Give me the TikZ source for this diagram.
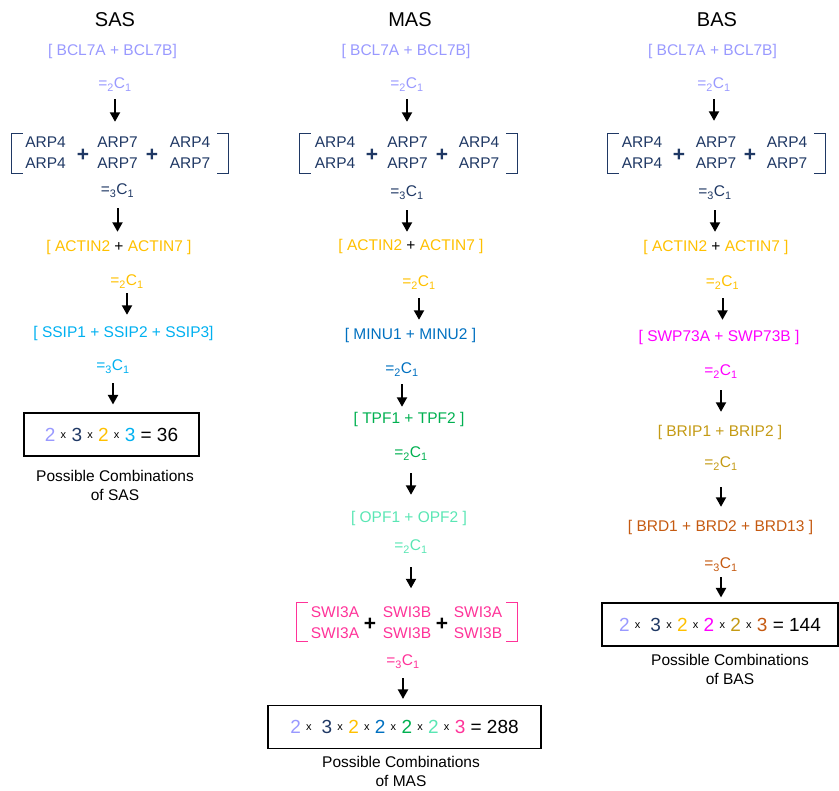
\documentclass[tikz,border=0pt]{standalone}
\usepackage{fontspec}
\setmainfont{Liberation Sans}
\usetikzlibrary{arrows.meta}
\definecolor{bcl}{RGB}{153,153,255}
\definecolor{arp}{RGB}{31,56,100}
\definecolor{actin}{RGB}{255,192,0}
\definecolor{ssip}{RGB}{0,176,240}
\definecolor{minu}{RGB}{0,112,192}
\definecolor{tpf}{RGB}{0,176,80}
\definecolor{opf}{RGB}{90,230,180}
\definecolor{swi}{RGB}{255,51,153}
\definecolor{swp}{RGB}{255,0,255}
\definecolor{brip}{RGB}{196,154,20}
\definecolor{brd}{RGB}{197,90,17}
\newcommand{\cmb}[1]{=\textsubscript{#1}C\textsubscript{1}}
\newcommand{\tx}{{\fontsize{11}{12}\selectfont\raisebox{3pt}{x}}}
\tikzset{
  gene/.style={font=\fontsize{15.5}{18}\selectfont, inner sep=0pt, text height=11pt, text depth=3pt},
  pair/.style={font=\fontsize{15.5}{21.5}\selectfont, inner sep=0pt, align=center},
  plus/.style={font=\fontsize{21}{24}\selectfont\bfseries, inner sep=0pt},
  ttl/.style={font=\fontsize{20}{24}\selectfont},
  blk/.style={inner sep=0pt, minimum width=#1, minimum height=39pt},
  brk/.style={line width=1.3pt},
  arr/.style 2 args={line width=2pt, -{Triangle[width=10pt,length=9.5pt]}, shorten <=#1pt, shorten >=#2pt},
  res/.style={draw, line width=1.1pt, inner sep=0pt, minimum height=43pt, font=\fontsize{19}{22}\selectfont},
  note/.style={font=\fontsize{15.5}{19}\selectfont, align=center, inner sep=0pt}
}
\begin{document}
\begin{tikzpicture}[x=1pt, y=-1pt]
  \useasboundingbox (0,0) rectangle (839,791);
  % SAS
  \draw
    (115,20) node[ttl] (tS){SAS}
    (112.5,52) node[gene,bcl] (bclS){[ BCL7A + BCL7B]}
    (115,85) node[gene,bcl] (cS1){\cmb{2}}
    (120,153.5) node[blk=216pt] (arpS){}
    (45.5,152.5) node[pair,arp] (arpS1){ARP4\\ARP4}
    (117.5,152.5) node[pair,arp] (arpS2){ARP7\\ARP7}
    (190,152.5) node[pair,arp] (arpS3){ARP4\\ARP7}
    (83,155) node[plus,arp] (plS1){+}
    (152,155) node[plus,arp] (plS2){+}
    (117.5,191) node[gene,arp] (cS2){\cmb{3}}
    (119,248) node[gene] (actS){\textcolor{actin}{[ ACTIN2} + \textcolor{actin}{ACTIN7 ]}}
    (127,282) node[gene,actin] (cS3){\cmb{2}}
    (123.5,334) node[gene,ssip] (ssipS){[ SSIP1 + SSIP2 + SSIP3]}
    (113,367) node[gene,ssip] (cS4){\cmb{3}}
    (111.5,434.5) node[res, minimum width=175pt] (resS){\textcolor{bcl}{2} \tx{} \textcolor{arp}{3} \tx{} \textcolor{actin}{2} \tx{} \textcolor{ssip}{3} = 36}
    (115,485) node[note] (noteS){Possible Combinations\\of SAS};
  % MAS
  \draw
    (410,20) node[ttl] (tM){MAS}
    (406,52) node[gene,bcl] (bclM){[ BCL7A + BCL7B]}
    (407,85) node[gene,bcl] (cM1){\cmb{2}}
    (408.5,153.5) node[blk=217pt] (arpM){}
    (335,152.5) node[pair,arp] (arpM1){ARP4\\ARP4}
    (407.5,152.5) node[pair,arp] (arpM2){ARP7\\ARP7}
    (479,152.5) node[pair,arp] (arpM3){ARP4\\ARP7}
    (372,155) node[plus,arp] (plM1){+}
    (442,155) node[plus,arp] (plM2){+}
    (407,193) node[gene,arp] (cM2){\cmb{3}}
    (411,247) node[gene] (actM){\textcolor{actin}{[ ACTIN2} + \textcolor{actin}{ACTIN7 ]}}
    (419,283) node[gene,actin] (cM3){\cmb{2}}
    (410.5,336) node[gene,minu] (minuM){[ MINU1 + MINU2 ]}
    (402,370) node[gene,minu] (cM4){\cmb{2}}
    (409,420) node[gene,tpf] (tpfM){[ TPF1 + TPF2 ]}
    (411,454) node[gene,tpf] (cM5){\cmb{2}}
    (409,519) node[gene,opf] (opfM){[ OPF1 + OPF2 ]}
    (411,547) node[gene,opf] (cM6){\cmb{2}}
    (407,622) node[blk=220pt] (swiM){}
    (335,622.5) node[pair,swi] (swiM1){SWI3A\\SWI3A}
    (407,622.5) node[pair,swi] (swiM2){SWI3B\\SWI3B}
    (478,622.5) node[pair,swi] (swiM3){SWI3A\\SWI3B}
    (370,624) node[plus] (plM3){+}
    (442,624) node[plus] (plM4){+}
    (403,662) node[gene,swi] (cM7){\cmb{3}}
    (404.5,727) node[res, minimum width=273pt] (resM){\textcolor{bcl}{2} \tx{}\hspace{10pt}\textcolor{arp}{3} \tx{} \textcolor{actin}{2} \tx{} \textcolor{minu}{2} \tx{} \textcolor{tpf}{2} \tx{} \textcolor{opf}{2} \tx{} \textcolor{swi}{3} = 288}
    (401,771) node[note] (noteM){Possible Combinations\\of MAS};
  % BAS
  \draw
    (717,20) node[ttl] (tB){BAS}
    (712.5,52) node[gene,bcl] (bclB){[ BCL7A + BCL7B]}
    (714,85) node[gene,bcl] (cB1){\cmb{2}}
    (716.5,153.5) node[blk=217pt] (arpB){}
    (642,152.5) node[pair,arp] (arpB1){ARP4\\ARP4}
    (716,152.5) node[pair,arp] (arpB2){ARP7\\ARP7}
    (787,152.5) node[pair,arp] (arpB3){ARP4\\ARP7}
    (679,155) node[plus,arp] (plB1){+}
    (750,155) node[plus,arp] (plB2){+}
    (715,193) node[gene,arp] (cB2){\cmb{3}}
    (716,248) node[gene] (actB){\textcolor{actin}{[ ACTIN2} + \textcolor{actin}{ACTIN7 ]}}
    (722.5,283) node[gene,actin] (cB3){\cmb{2}}
    (719,338) node[gene,swp] (swpB){[ SWP73A + SWP73B ]}
    (721,372) node[gene,swp] (cB4){\cmb{2}}
    (720,433) node[gene,brip] (bripB){[ BRIP1 + BRIP2 ]}
    (721,464) node[gene,brip] (cB5){\cmb{2}}
    (720.5,528) node[gene,brd] (brdB){[ BRD1 + BRD2 + BRD13 ]}
    (721,565) node[gene,brd] (cB6){\cmb{3}}
    (720,624.5) node[res, minimum width=236pt] (resB){\textcolor{bcl}{2} \tx{}\hspace{10pt}\textcolor{arp}{3} \tx{} \textcolor{actin}{2} \tx{} \textcolor{swp}{2} \tx{} \textcolor{brip}{2} \tx{} \textcolor{brd}{3} = 144}
    (730,669) node[note] (noteB){Possible Combinations\\of BAS};
  % brackets
  \begin{scope}[brk, arp]
    \draw ([xshift=11pt]arpS.north west) -- (arpS.north west) -- (arpS.south west) -- ([xshift=11pt]arpS.south west);
    \draw ([xshift=-11pt]arpS.north east) -- (arpS.north east) -- (arpS.south east) -- ([xshift=-11pt]arpS.south east);
    \draw ([xshift=11pt]arpM.north west) -- (arpM.north west) -- (arpM.south west) -- ([xshift=11pt]arpM.south west);
    \draw ([xshift=-11pt]arpM.north east) -- (arpM.north east) -- (arpM.south east) -- ([xshift=-11pt]arpM.south east);
    \draw ([xshift=11pt]arpB.north west) -- (arpB.north west) -- (arpB.south west) -- ([xshift=11pt]arpB.south west);
    \draw ([xshift=-11pt]arpB.north east) -- (arpB.north east) -- (arpB.south east) -- ([xshift=-11pt]arpB.south east);
  \end{scope}
  \begin{scope}[brk, swi]
    \draw ([xshift=11pt]swiM.north west) -- (swiM.north west) -- (swiM.south west) -- ([xshift=11pt]swiM.south west);
    \draw ([xshift=-11pt]swiM.north east) -- (swiM.north east) -- (swiM.south east) -- ([xshift=-11pt]swiM.south east);
  \end{scope}
  % arrows
  \begin{scope}[black]
    \draw[arr={7}{12}] (cS1.south) -- (cS1.south |- arpS.north);
    \draw[arr={10}{9}] (cS2.south) -- (cS2.south |- actS.north);
    \draw[arr={4}{12}] (cS3.south) -- (cS3.south |- ssipS.north);
    \draw[arr={9}{8}] (cS4.south) -- (cS4.south |- resS.north);
    \draw[arr={7}{12}] (cM1.south) -- (cM1.south |- arpM.north);
    \draw[arr={10}{8}] (cM2.south) -- (cM2.south |- actM.north);
    \draw[arr={8}{9}] (cM3.south) -- (cM3.south |- minuM.north);
    \draw[arr={7}{6}] (cM4.south) -- (cM4.south |- tpfM.north);
    \draw[arr={12}{17}] (cM5.south) -- (cM5.south |- opfM.north);
    \draw[arr={13}{14}] (cM6.south) -- (cM6.south |- swiM.north);
    \draw[arr={9}{6}] (cM7.south) -- (cM7.south |- resM.north);
    \draw[arr={7}{13}] (cB1.south) -- (cB1.south |- arpB.north);
    \draw[arr={10}{9}] (cB2.south) -- (cB2.south |- actB.north);
    \draw[arr={8}{11}] (cB3.south) -- (cB3.south |- swpB.north);
    \draw[arr={11}{14}] (cB4.south) -- (cB4.south |- bripB.north);
    \draw[arr={16}{14}] (cB5.south) -- (cB5.south |- brdB.north);
    \draw[arr={5}{5}] (cB6.south) -- (cB6.south |- resB.north);
  \end{scope}
\end{tikzpicture}
\end{document}
